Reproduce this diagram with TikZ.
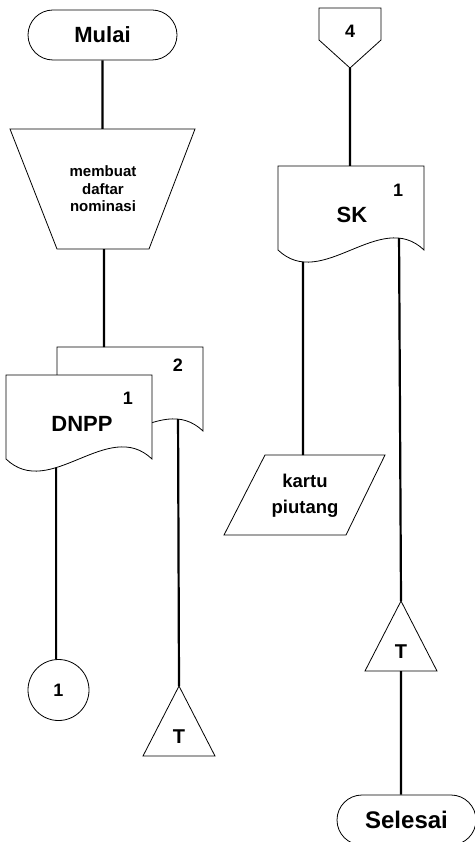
\documentclass[tikz,border=0pt]{standalone}
\usepackage{fontspec}
\setmainfont{Liberation Sans}
\usepackage{tikz}
\usetikzlibrary{positioning}
\tikzset{shape line/.style={draw,line width=.8pt},
	flow line/.style={line width=2.2pt},
	big text/.style={font=\bfseries\fontsize{22}{26}\selectfont},
	num text/.style={font=\bfseries\fontsize{18}{20}\selectfont},
	term node/.style={shape line,rounded corners=25pt,minimum height=50pt,big text},
	con node/.style={shape line,circle,minimum size=61pt,inner sep=0pt,num text},
	docshape/.pic={
		\draw[shape line,fill=white] (0,0) coordinate (-nw) -- (146,0) -- (146,84)
		.. controls (102,42) and (44,126) .. coordinate[pos=.18] (-hi) coordinate[pos=.65] (-mid) coordinate[pos=.82] (-lo) (0,84) -- cycle;
	},
	mergetri/.pic={
		\draw[shape line] (0,0) coordinate (-top) -- (36,70) -- (-36,70) -- cycle;
		\coordinate (-bot) at (0,70);
		\node[font=\bfseries\fontsize{20}{22}\selectfont] (-lbl) at (0,51) {T};
	},
}

\begin{document}
\begin{tikzpicture}[x=1pt,y=-1pt]
	\useasboundingbox (0,0) rectangle (474,842);

	% kolom kiri
	\node[term node,minimum width=149pt] (mulai) at (102.5,35) {Mulai};
	\draw[shape line] (10,129) coordinate (buatkiri) -- (195,129) -- (149,249) -- (57,249) -- cycle;
	\coordinate (buatatas) at (102.5,129);
	\coordinate (buatbawah) at (104,249);
	\node[align=center,font=\bfseries\fontsize{15}{17.5}\selectfont] (buat) at (103,189) {membuat\\daftar\\nominasi};
	\pic (dok2) at (57,347) {docshape};
	\pic (dok1) at (6,375) {docshape};
	\node[big text] (dnpp) at (82,424) {DNPP};
	\node[num text] (dnppsatu) at (128,398) {1};
	\node[num text] (dnppdua) at (178,365) {2};
	\node[con node] (kon1) at (58.5,690) {1};
	\pic (tri1) at (179,686) {mergetri};

	% kolom kanan
	\draw[shape line] (319,8) -- (381,8) -- (381,40) -- (350,68) coordinate (hal4) -- (319,40) -- cycle;
	\node[num text] (hal4lbl) at (350,31) {4};
	\pic (sk) at (278,166) {docshape};
	\node[big text] (sklbl) at (352,215) {SK};
	\node[num text] (sksatu) at (398,190) {1};
	\draw[shape line] (265,455) -- (385,455) -- (346,535) -- (224,535) -- cycle;
	\coordinate (kartuatas) at (303,455);
	\node[align=center,font=\bfseries\fontsize{18.5}{26}\selectfont] (kartu) at (305,496) {kartu\\piutang};
	\pic (tri2) at (401,601) {mergetri};
	\node[term node,minimum width=139pt,font=\bfseries\fontsize{24}{28}\selectfont] (selesai) at (406.5,820) {Selesai};

	% garis alir
	\path[draw,flow line]
	(mulai.south) -- (buatatas)
	(buatbawah) -- (buatbawah |- dok2-nw)
	(dok1-mid) -- (dok1-mid |- kon1.north)
	(dok2-hi) -- (tri1-top)
	(hal4) -- (hal4 |- sk-nw)
	(sk-lo) -- (kartuatas)
	(sk-hi) -- (tri2-top)
	(tri2-bot) -- (tri2-bot |- selesai.north)
	;
\end{tikzpicture}
\end{document}
